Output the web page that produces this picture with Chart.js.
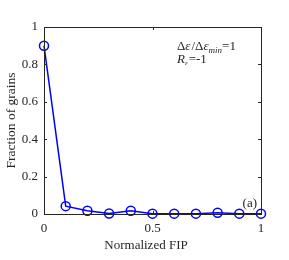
<!DOCTYPE html>
<html>
<head>
<meta charset="utf-8">
<script src="https://cdn.jsdelivr.net/npm/chart.js@4"></script>
<style>
  html, body { margin: 0; padding: 0; background: #fff; }
  #wrap { width: 289px; height: 260px; }
</style>
</head>
<body>
<div id="wrap"><canvas id="chart" width="289" height="260"></canvas></div>
<script>
// Normalized FIP bins and fraction of grains
const fip = [0, 0.1, 0.2, 0.3, 0.4, 0.5, 0.6, 0.7, 0.8, 0.9, 1.0];
const fraction = [0.9, 0.042, 0.017, 0.003, 0.017, 0.002, 0.002, 0.002, 0.007, 0.002, 0.002];
const xTicks = [0, 0.5, 1];
const yTicks = [0, 0.2, 0.4, 0.6, 0.8, 1];

const axisColor = '#262626';
const serif = '"Liberation Serif", "DejaVu Serif", serif';

// box around the plot with inward ticks, plus the text notes
const boxPlugin = {
    id: 'box',
    afterDatasetsDraw(chart) {
        const { ctx, chartArea: a, scales } = chart;
        ctx.save();
        ctx.strokeStyle = axisColor;
        ctx.lineWidth = 1;
        ctx.strokeRect(a.left + 0.5, a.top + 0.5, a.right - a.left, a.bottom - a.top);
        const len = 3;
        ctx.beginPath();
        xTicks.forEach(v => {
            const px = Math.round(scales.x.getPixelForValue(v)) + 0.5;
            ctx.moveTo(px, a.bottom); ctx.lineTo(px, a.bottom - len);
            ctx.moveTo(px, a.top); ctx.lineTo(px, a.top + len);
        });
        yTicks.forEach(v => {
            const py = Math.round(scales.y.getPixelForValue(v)) + 0.5;
            ctx.moveTo(a.left, py); ctx.lineTo(a.left + len, py);
            ctx.moveTo(a.right, py); ctx.lineTo(a.right - len, py);
        });
        ctx.stroke();

        // annotations
        ctx.fillStyle = axisColor;
        ctx.textBaseline = 'alphabetic';
        ctx.textAlign = 'left';
        const put = (txt, font, x, y) => { ctx.font = font; ctx.fillText(txt, x, y); return x + ctx.measureText(txt).width; };
        let x = 177;
        x = put('Δ', '13px ' + serif, x, 50);
        x = put('ε', 'italic 13px ' + serif, x, 50);
        x = put('/Δ', '13px ' + serif, x + 1, 50);
        x = put('ε', 'italic 13px ' + serif, x, 50);
        x = put('min', 'italic 9px ' + serif, x, 53);
        put('=1', '13px ' + serif, x, 50);

        x = 177;
        x = put('R', 'italic 13px ' + serif, x, 63);
        x = put('ε', 'italic 7px ' + serif, x, 65);
        put('=-1', '13px ' + serif, x + 1, 63);

        ctx.textAlign = 'right';
        put('(a)', '13px ' + serif, 257, 207);

        // x axis title, sits a little left of the axis centre
        ctx.textAlign = 'center';
        put('Normalized FIP', '13px ' + serif, 146, 249);
        ctx.restore();
    }
};

new Chart(document.getElementById('chart'), {
    type: 'scatter',
    data: {
        datasets: [{
            data: fip.map((v, i) => ({ x: v, y: fraction[i] })),
            showLine: true,
            borderColor: '#0000ff',
            borderWidth: 1.5,
            pointStyle: 'circle',
            pointRadius: 4.5,
            pointBorderWidth: 1.5,
            pointBackgroundColor: 'rgba(0,0,0,0)',
            pointBorderColor: '#0000ff',
            clip: false
        }]
    },
    options: {
        responsive: false,
        animation: false,
        layout: { padding: { top: 27, right: 28, left: 0, bottom: 0 } },
        plugins: { legend: { display: false }, tooltip: { enabled: false } },
        scales: {
            x: {
                type: 'linear', min: 0, max: 1,
                afterBuildTicks: s => { s.ticks = xTicks.map(v => ({ value: v })); },
                afterFit: s => { s.height = 46; },
                grid: { display: false, drawTicks: false },
                border: { display: false },
                ticks: { color: axisColor, font: { family: serif, size: 13 }, padding: 7, maxRotation: 0,
                         callback: v => String(v) },
                title: { display: false }
            },
            y: {
                type: 'linear', min: 0, max: 1,
                afterBuildTicks: s => { s.ticks = yTicks.map(v => ({ value: v })); },
                afterFit: s => { s.width = 44; },
                grid: { display: false, drawTicks: false },
                border: { display: false },
                ticks: { color: axisColor, font: { family: serif, size: 13 }, padding: 6,
                         callback: v => String(v) },
                title: { display: true, text: 'Fraction of grains', color: axisColor,
                         font: { family: serif, size: 13.5 }, padding: { bottom: 0, top: 3 } }
            }
        }
    },
    plugins: [boxPlugin]
});
</script>
</body>
</html>
